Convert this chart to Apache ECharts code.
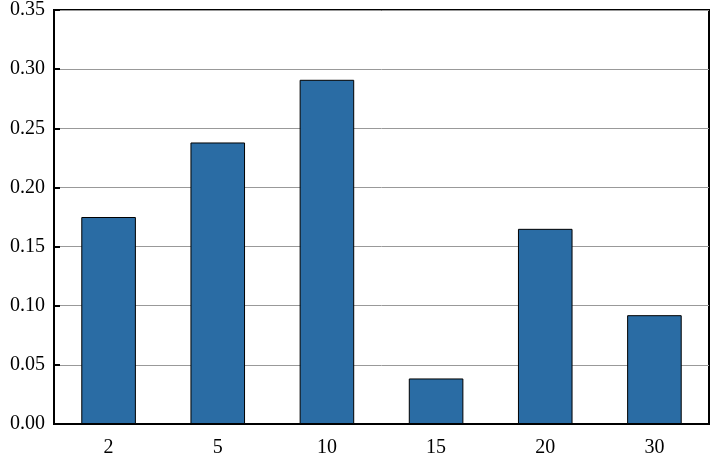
<!DOCTYPE html>
<html><head><meta charset="utf-8">
<script src="https://cdn.jsdelivr.net/npm/echarts@6/dist/echarts.min.js"></script>
<style>html,body{margin:0;padding:0;background:#fff}#c{width:714px;height:458px}</style>
</head><body><div id="c"></div>
<script>
const categories = ['2', '5', '10', '15', '20', '30'];
const values = [0.175, 0.238, 0.291, 0.0385, 0.165, 0.092];
const yTicks = { min: 0, max: 0.35, interval: 0.05 };

const chart = echarts.init(document.getElementById('c'), null, { renderer: 'canvas' });
const font = "'Liberation Serif', 'DejaVu Serif', serif";
chart.setOption({
  animation: false,
  grid: { left: 54, right: 5, top: 10, bottom: 34, show: true, borderColor: '#000', borderWidth: 2, backgroundColor: 'transparent' },
  xAxis: {
    type: 'category', data: categories,
    axisLine: { lineStyle: { color: '#000', width: 2 } },
    axisTick: { show: false },
    axisLabel: { color: '#000', fontFamily: font, fontSize: 20, margin: 14 },
    splitLine: { show: false }
  },
  yAxis: {
    type: 'value', min: yTicks.min, max: yTicks.max, interval: yTicks.interval,
    axisLine: { show: true, lineStyle: { color: '#000', width: 2 } },
    axisTick: { show: true, inside: true, length: 6, lineStyle: { color: '#000', width: 2 } },
    axisLabel: { color: '#000', fontFamily: font, fontSize: 20, margin: 9, formatter: v => v.toFixed(2) },
    splitLine: { show: true, lineStyle: { color: '#999', width: 1 } }
  },
  series: [{
    type: 'bar', data: values, barWidth: '50%',
    itemStyle: { color: '#2a6ca4', borderColor: '#000', borderWidth: 1 }
  }]
});
</script></body></html>
